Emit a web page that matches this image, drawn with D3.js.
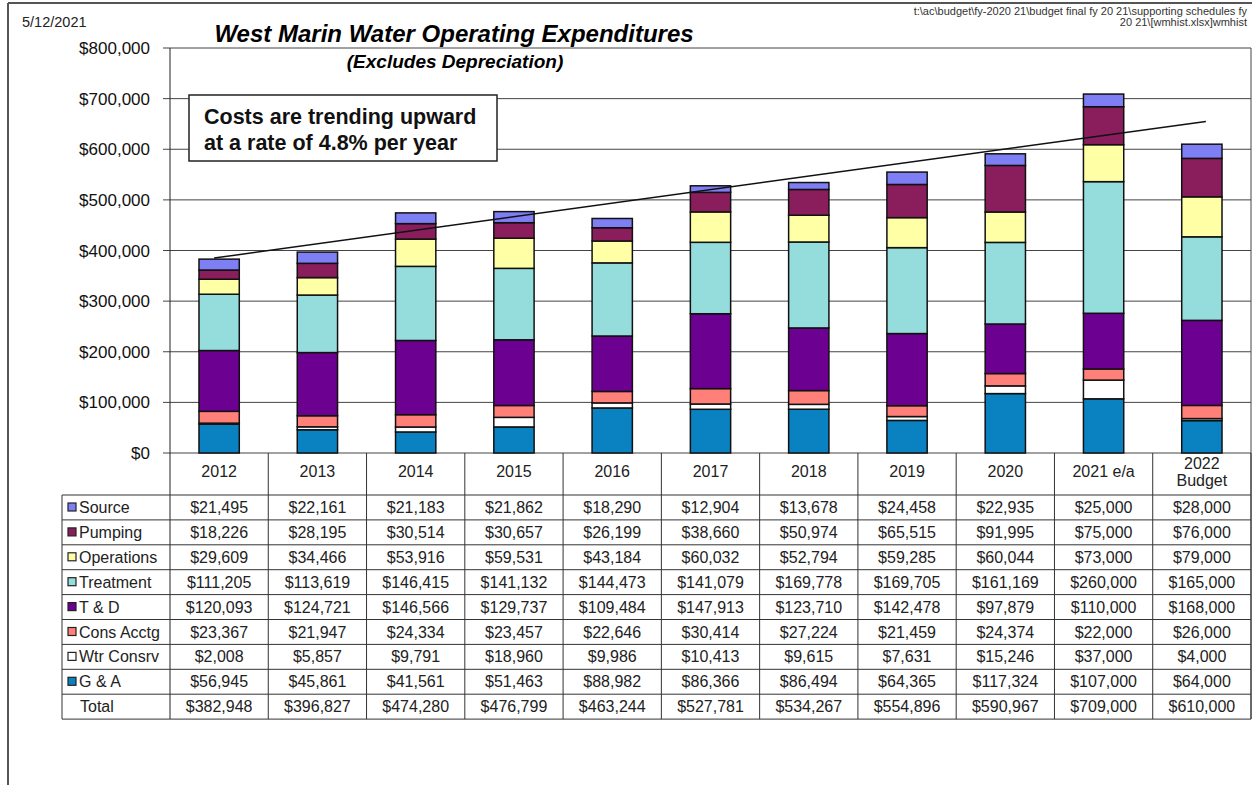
<!DOCTYPE html>
<html lang="en">
<head>
  <meta charset="utf-8">
  <title>West Marin Water Operating Expenditures</title>
  <script src="https://cdn.jsdelivr.net/npm/d3@7"></script>
  <style>
    body { margin: 0; background: #fff; }
    svg { font-family: Arial, "Liberation Sans", sans-serif; }
    .grid line { stroke: #444; stroke-width: 1; }
    .val { font-size: 16px; fill: #222; }
  </style>
</head>
<body>
<svg width="1252" height="785"></svg>
<script>
  // data
  var years = ["2012", "2013", "2014", "2015", "2016", "2017", "2018", "2019", "2020", "2021 e/a", "2022 Budget"];
  var seriesNames = ["Source", "Pumping", "Operations", "Treatment", "T & D", "Cons Acctg", "Wtr Consrv", "G & A"];
  var source     = [21495, 22161, 21183, 21862, 18290, 12904, 13678, 24458, 22935, 25000, 28000];
  var pumping    = [18226, 28195, 30514, 30657, 26199, 38660, 50974, 65515, 91995, 75000, 76000];
  var operations = [29609, 34466, 53916, 59531, 43184, 60032, 52794, 59285, 60044, 73000, 79000];
  var treatment  = [111205, 113619, 146415, 141132, 144473, 141079, 169778, 169705, 161169, 260000, 165000];
  var tAndD      = [120093, 124721, 146566, 129737, 109484, 147913, 123710, 142478, 97879, 110000, 168000];
  var consAcctg  = [23367, 21947, 24334, 23457, 22646, 30414, 27224, 21459, 24374, 22000, 26000];
  var wtrConsrv  = [2008, 5857, 9791, 18960, 9986, 10413, 9615, 7631, 15246, 37000, 4000];
  var gAndA      = [56945, 45861, 41561, 51463, 88982, 86366, 86494, 64365, 117324, 107000, 64000];
  var totals     = [382948, 396827, 474280, 476799, 463244, 527781, 534267, 554896, 590967, 709000, 610000];
  var yTicks = [0, 100000, 200000, 300000, 400000, 500000, 600000, 700000, 800000];
  var trend = [385000, 655000]; // trendline at 2012 and 2022

  var colors = ["#7f7ff5", "#8a1d5c", "#ffffa6", "#95dcdc", "#6c0090", "#ff8078", "#ffffff", "#0a82c2"];
  var seriesValues = [source, pumping, operations, treatment, tAndD, consAcctg, wtrConsrv, gAndA];

  var svg = d3.select("svg");
  var plotLeft = 170, plotRight = 1251, plotTop = 48, plotBottom = 453;

  var x = d3.scaleBand().domain(years).range([plotLeft, plotRight]).paddingInner(0.59).paddingOuter(0.295);
  var col = d3.scaleBand().domain(years).range([plotLeft, plotRight]).padding(0);
  var y = d3.scaleLinear().domain([0, 800000]).range([plotBottom, plotTop]);

  // page frame
  svg.append("line").attr("x1", 8).attr("x2", 1252).attr("y1", 3).attr("y2", 3)
     .attr("stroke", "#555").attr("stroke-width", 2);
  svg.append("line").attr("x1", 8).attr("x2", 8).attr("y1", 3).attr("y2", 785)
     .attr("stroke", "#555").attr("stroke-width", 2);

  svg.append("text").attr("x", 22).attr("y", 27).attr("font-size", "14.5px").attr("fill", "#222").text("5/12/2021");
  svg.append("text").attr("x", 1247).attr("y", 15).attr("font-size", "11px").attr("text-anchor", "end").attr("fill", "#333")
     .text("t:\\ac\\budget\\fy-2020 21\\budget final fy 20 21\\supporting schedules fy");
  svg.append("text").attr("x", 1247).attr("y", 26).attr("font-size", "11px").attr("text-anchor", "end").attr("fill", "#333")
     .text("20 21\\[wmhist.xlsx]wmhist");

  svg.append("text").attr("x", 454).attr("y", 42).attr("text-anchor", "middle")
     .attr("font-size", "24px").attr("font-weight", "bold").attr("font-style", "italic")
     .text("West Marin Water Operating Expenditures");
  svg.append("text").attr("x", 455).attr("y", 68).attr("text-anchor", "middle")
     .attr("font-size", "19px").attr("font-weight", "bold").attr("font-style", "italic")
     .text("(Excludes Depreciation)");

  // gridlines
  svg.append("g").attr("class", "grid")
     .selectAll("line").data(yTicks).enter().append("line")
     .attr("x1", plotLeft - 7).attr("x2", plotRight)
     .attr("y1", function(d) { return y(d); }).attr("y2", function(d) { return y(d); });

  // y axis labels
  svg.append("g").selectAll("text").data(yTicks).enter().append("text")
     .attr("x", 150).attr("y", function(d) { return y(d) + 6; })
     .attr("text-anchor", "end").attr("font-size", "17px").attr("fill", "#111")
     .text(function(d) { return d3.format("$,")(d); });

  svg.append("line").attr("x1", plotLeft).attr("x2", plotLeft).attr("y1", plotTop).attr("y2", 719).attr("stroke", "#222");
  svg.append("line").attr("x1", plotRight).attr("x2", plotRight).attr("y1", plotTop).attr("y2", 719).attr("stroke", "#444");

  // stacked bars, G & A at the bottom
  var rows = years.map(function(yr, i) {
    var r = { year: yr };
    seriesNames.forEach(function(s, k) { r[s] = seriesValues[k][i]; });
    return r;
  });
  var stack = d3.stack().keys(seriesNames.slice().reverse())(rows);

  svg.append("g").selectAll("g").data(stack).enter().append("g")
     .attr("fill", function(d) { return colors[seriesNames.indexOf(d.key)]; })
     .selectAll("rect").data(function(d) { return d; }).enter().append("rect")
     .attr("x", function(d) { return x(d.data.year); })
     .attr("width", x.bandwidth())
     .attr("y", function(d) { return y(d[1]); })
     .attr("height", function(d) { return y(d[0]) - y(d[1]); })
     .attr("stroke", "#111").attr("stroke-width", 1.5);

  // trendline
  svg.append("line")
     .attr("x1", x(years[0]) + x.bandwidth() / 2 - 5).attr("y1", y(trend[0]))
     .attr("x2", x(years[10]) + x.bandwidth() / 2 + 4).attr("y2", y(trend[1]))
     .attr("stroke", "#111").attr("stroke-width", 1.5);

  // annotation box
  svg.append("rect").attr("x", 189).attr("y", 95).attr("width", 308).attr("height", 66)
     .attr("fill", "#fff").attr("stroke", "#222").attr("stroke-width", 1.5);
  svg.append("text").attr("x", 204).attr("y", 124).attr("font-size", "21.5px").attr("font-weight", "bold").attr("fill", "#111")
     .text("Costs are trending upward");
  svg.append("text").attr("x", 204).attr("y", 150).attr("font-size", "21.5px").attr("font-weight", "bold").attr("fill", "#111")
     .text("at a rate of 4.8%  per year");

  // category header row
  var tableTop = 495, rowH = 24.9;
  svg.append("g").selectAll("line").data(years).enter().append("line")
     .attr("x1", function(d) { return col(d) + col.bandwidth(); })
     .attr("x2", function(d) { return col(d) + col.bandwidth(); })
     .attr("y1", plotBottom).attr("y2", tableTop).attr("stroke", "#333");
  years.forEach(function(yr) {
    var cx = col(yr) + col.bandwidth() / 2;
    if (yr == "2022 Budget") {
      svg.append("text").attr("x", cx).attr("y", 469).attr("text-anchor", "middle").attr("font-size", "16px").attr("fill", "#222").text("2022");
      svg.append("text").attr("x", cx).attr("y", 486).attr("text-anchor", "middle").attr("font-size", "16px").attr("fill", "#222").text("Budget");
    } else {
      svg.append("text").attr("x", cx).attr("y", 477).attr("text-anchor", "middle").attr("font-size", "16px").attr("fill", "#222").text(yr);
    }
  });

  // data table
  var tableRows = seriesNames.concat(["Total"]);
  var tableVals = seriesValues.concat([totals]);
  var tableLeft = 62;

  tableRows.forEach(function(name, r) {
    var ry = tableTop + r * rowH;
    svg.append("line").attr("x1", tableLeft).attr("x2", plotRight).attr("y1", ry).attr("y2", ry).attr("stroke", "#333");
    if (r < seriesNames.length) {
      svg.append("rect").attr("x", 68).attr("y", ry + 8).attr("width", 8).attr("height", 8)
         .attr("fill", colors[r]).attr("stroke", "#222").attr("stroke-width", 1.2);
      svg.append("text").attr("x", 79).attr("y", ry + 18).attr("font-size", "16px").attr("fill", "#222").text(name);
    } else {
      svg.append("text").attr("x", 80).attr("y", ry + 18).attr("font-size", "16px").attr("fill", "#222").text(name);
    }
    tableVals[r].forEach(function(v, i) {
      svg.append("text").attr("class", "val")
         .attr("x", col(years[i]) + col.bandwidth() / 2).attr("y", ry + 18)
         .attr("text-anchor", "middle").text(d3.format("$,")(v));
    });
  });
  svg.append("line").attr("x1", tableLeft).attr("x2", plotRight)
     .attr("y1", tableTop + tableRows.length * rowH).attr("y2", tableTop + tableRows.length * rowH).attr("stroke", "#333");
  svg.append("line").attr("x1", tableLeft).attr("x2", tableLeft)
     .attr("y1", tableTop).attr("y2", tableTop + tableRows.length * rowH).attr("stroke", "#333");
  svg.append("g").selectAll("line").data(years).enter().append("line")
     .attr("x1", function(d) { return col(d) + col.bandwidth(); })
     .attr("x2", function(d) { return col(d) + col.bandwidth(); })
     .attr("y1", tableTop).attr("y2", tableTop + tableRows.length * rowH).attr("stroke", "#333");
</script>
</body>
</html>
